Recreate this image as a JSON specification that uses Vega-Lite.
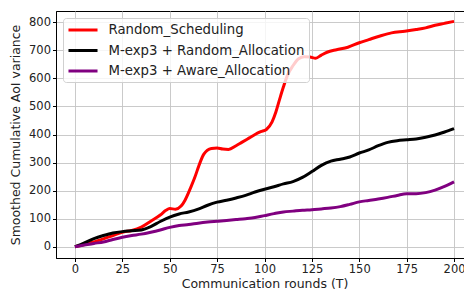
{
  "$schema": "https://vega.github.io/schema/vega-lite/v6.json",
  "autosize": "none",
  "width": 417,
  "height": 247,
  "padding": {"left": 56, "top": 11, "right": 0, "bottom": 32},
  "background": "white",
  "config": {
    "font": "DejaVu Sans",
    "view": {"stroke": "black", "strokeWidth": 1},
    "axis": {
      "domainColor": "black", "tickColor": "black", "tickSize": 3.5, "labelFontSize": 11.5,
      "labelColor": "#222", "titleFontSize": 12.5, "titleFontWeight": "normal", "titleColor": "#222",
      "gridColor": "#c4c4c4", "gridWidth": 0.9, "labelFont": "DejaVu Sans", "titleFont": "DejaVu Sans"
    }
  },
  "data": {"values": [
    {"t":0,"v":0,"s":"Random_Scheduling"},{"t":5,"v":8,"s":"Random_Scheduling"},{"t":10,"v":17,"s":"Random_Scheduling"},{"t":15,"v":28,"s":"Random_Scheduling"},{"t":20,"v":40,"s":"Random_Scheduling"},{"t":25,"v":52,"s":"Random_Scheduling"},{"t":30,"v":58,"s":"Random_Scheduling"},{"t":35,"v":70,"s":"Random_Scheduling"},{"t":40,"v":91,"s":"Random_Scheduling"},{"t":45,"v":113,"s":"Random_Scheduling"},{"t":48,"v":130,"s":"Random_Scheduling"},{"t":50,"v":136,"s":"Random_Scheduling"},{"t":53,"v":134,"s":"Random_Scheduling"},{"t":56,"v":145,"s":"Random_Scheduling"},{"t":58,"v":165,"s":"Random_Scheduling"},{"t":61,"v":210,"s":"Random_Scheduling"},{"t":63,"v":243,"s":"Random_Scheduling"},{"t":66,"v":300,"s":"Random_Scheduling"},{"t":68,"v":330,"s":"Random_Scheduling"},{"t":72,"v":350,"s":"Random_Scheduling"},{"t":75,"v":352,"s":"Random_Scheduling"},{"t":78,"v":348,"s":"Random_Scheduling"},{"t":81,"v":347,"s":"Random_Scheduling"},{"t":85,"v":360,"s":"Random_Scheduling"},{"t":88,"v":372,"s":"Random_Scheduling"},{"t":92,"v":388,"s":"Random_Scheduling"},{"t":95,"v":400,"s":"Random_Scheduling"},{"t":98,"v":410,"s":"Random_Scheduling"},{"t":101,"v":418,"s":"Random_Scheduling"},{"t":104,"v":445,"s":"Random_Scheduling"},{"t":106,"v":480,"s":"Random_Scheduling"},{"t":108,"v":526,"s":"Random_Scheduling"},{"t":110,"v":570,"s":"Random_Scheduling"},{"t":112,"v":609,"s":"Random_Scheduling"},{"t":115,"v":645,"s":"Random_Scheduling"},{"t":118,"v":670,"s":"Random_Scheduling"},{"t":121,"v":677,"s":"Random_Scheduling"},{"t":124,"v":676,"s":"Random_Scheduling"},{"t":127,"v":672,"s":"Random_Scheduling"},{"t":130,"v":683,"s":"Random_Scheduling"},{"t":133,"v":693,"s":"Random_Scheduling"},{"t":138,"v":702,"s":"Random_Scheduling"},{"t":144,"v":711,"s":"Random_Scheduling"},{"t":150,"v":727,"s":"Random_Scheduling"},{"t":155,"v":738,"s":"Random_Scheduling"},{"t":161,"v":751,"s":"Random_Scheduling"},{"t":167,"v":762,"s":"Random_Scheduling"},{"t":174,"v":768,"s":"Random_Scheduling"},{"t":180,"v":774,"s":"Random_Scheduling"},{"t":185,"v":780,"s":"Random_Scheduling"},{"t":190,"v":789,"s":"Random_Scheduling"},{"t":195,"v":796,"s":"Random_Scheduling"},{"t":200,"v":803,"s":"Random_Scheduling"},
    {"t":0,"v":0,"s":"M-exp3 + Random_Allocation"},{"t":5,"v":14,"s":"M-exp3 + Random_Allocation"},{"t":10,"v":29,"s":"M-exp3 + Random_Allocation"},{"t":15,"v":40,"s":"M-exp3 + Random_Allocation"},{"t":20,"v":49,"s":"M-exp3 + Random_Allocation"},{"t":25,"v":54,"s":"M-exp3 + Random_Allocation"},{"t":30,"v":57,"s":"M-exp3 + Random_Allocation"},{"t":35,"v":60,"s":"M-exp3 + Random_Allocation"},{"t":40,"v":72,"s":"M-exp3 + Random_Allocation"},{"t":45,"v":90,"s":"M-exp3 + Random_Allocation"},{"t":50,"v":106,"s":"M-exp3 + Random_Allocation"},{"t":55,"v":117,"s":"M-exp3 + Random_Allocation"},{"t":60,"v":124,"s":"M-exp3 + Random_Allocation"},{"t":65,"v":134,"s":"M-exp3 + Random_Allocation"},{"t":70,"v":148,"s":"M-exp3 + Random_Allocation"},{"t":75,"v":159,"s":"M-exp3 + Random_Allocation"},{"t":80,"v":166,"s":"M-exp3 + Random_Allocation"},{"t":85,"v":174,"s":"M-exp3 + Random_Allocation"},{"t":90,"v":183,"s":"M-exp3 + Random_Allocation"},{"t":95,"v":195,"s":"M-exp3 + Random_Allocation"},{"t":100,"v":205,"s":"M-exp3 + Random_Allocation"},{"t":105,"v":214,"s":"M-exp3 + Random_Allocation"},{"t":110,"v":224,"s":"M-exp3 + Random_Allocation"},{"t":115,"v":232,"s":"M-exp3 + Random_Allocation"},{"t":120,"v":247,"s":"M-exp3 + Random_Allocation"},{"t":125,"v":268,"s":"M-exp3 + Random_Allocation"},{"t":130,"v":290,"s":"M-exp3 + Random_Allocation"},{"t":135,"v":305,"s":"M-exp3 + Random_Allocation"},{"t":140,"v":312,"s":"M-exp3 + Random_Allocation"},{"t":145,"v":320,"s":"M-exp3 + Random_Allocation"},{"t":150,"v":334,"s":"M-exp3 + Random_Allocation"},{"t":155,"v":345,"s":"M-exp3 + Random_Allocation"},{"t":160,"v":360,"s":"M-exp3 + Random_Allocation"},{"t":165,"v":372,"s":"M-exp3 + Random_Allocation"},{"t":170,"v":378,"s":"M-exp3 + Random_Allocation"},{"t":175,"v":381,"s":"M-exp3 + Random_Allocation"},{"t":180,"v":384,"s":"M-exp3 + Random_Allocation"},{"t":185,"v":390,"s":"M-exp3 + Random_Allocation"},{"t":190,"v":398,"s":"M-exp3 + Random_Allocation"},{"t":195,"v":409,"s":"M-exp3 + Random_Allocation"},{"t":200,"v":421,"s":"M-exp3 + Random_Allocation"},
    {"t":0,"v":0,"s":"M-exp3 + Aware_Allocation"},{"t":5,"v":6,"s":"M-exp3 + Aware_Allocation"},{"t":10,"v":12,"s":"M-exp3 + Aware_Allocation"},{"t":15,"v":17,"s":"M-exp3 + Aware_Allocation"},{"t":20,"v":26,"s":"M-exp3 + Aware_Allocation"},{"t":25,"v":34,"s":"M-exp3 + Aware_Allocation"},{"t":30,"v":40,"s":"M-exp3 + Aware_Allocation"},{"t":35,"v":45,"s":"M-exp3 + Aware_Allocation"},{"t":40,"v":52,"s":"M-exp3 + Aware_Allocation"},{"t":45,"v":60,"s":"M-exp3 + Aware_Allocation"},{"t":50,"v":69,"s":"M-exp3 + Aware_Allocation"},{"t":55,"v":76,"s":"M-exp3 + Aware_Allocation"},{"t":60,"v":79,"s":"M-exp3 + Aware_Allocation"},{"t":65,"v":84,"s":"M-exp3 + Aware_Allocation"},{"t":70,"v":88,"s":"M-exp3 + Aware_Allocation"},{"t":75,"v":91,"s":"M-exp3 + Aware_Allocation"},{"t":80,"v":94,"s":"M-exp3 + Aware_Allocation"},{"t":85,"v":97,"s":"M-exp3 + Aware_Allocation"},{"t":90,"v":100,"s":"M-exp3 + Aware_Allocation"},{"t":95,"v":104,"s":"M-exp3 + Aware_Allocation"},{"t":100,"v":111,"s":"M-exp3 + Aware_Allocation"},{"t":105,"v":118,"s":"M-exp3 + Aware_Allocation"},{"t":110,"v":124,"s":"M-exp3 + Aware_Allocation"},{"t":115,"v":127,"s":"M-exp3 + Aware_Allocation"},{"t":120,"v":130,"s":"M-exp3 + Aware_Allocation"},{"t":125,"v":132,"s":"M-exp3 + Aware_Allocation"},{"t":130,"v":135,"s":"M-exp3 + Aware_Allocation"},{"t":135,"v":138,"s":"M-exp3 + Aware_Allocation"},{"t":140,"v":143,"s":"M-exp3 + Aware_Allocation"},{"t":145,"v":151,"s":"M-exp3 + Aware_Allocation"},{"t":150,"v":160,"s":"M-exp3 + Aware_Allocation"},{"t":155,"v":165,"s":"M-exp3 + Aware_Allocation"},{"t":160,"v":170,"s":"M-exp3 + Aware_Allocation"},{"t":165,"v":176,"s":"M-exp3 + Aware_Allocation"},{"t":170,"v":183,"s":"M-exp3 + Aware_Allocation"},{"t":175,"v":189,"s":"M-exp3 + Aware_Allocation"},{"t":180,"v":189,"s":"M-exp3 + Aware_Allocation"},{"t":185,"v":193,"s":"M-exp3 + Aware_Allocation"},{"t":190,"v":202,"s":"M-exp3 + Aware_Allocation"},{"t":195,"v":215,"s":"M-exp3 + Aware_Allocation"},{"t":200,"v":231,"s":"M-exp3 + Aware_Allocation"}
  ]},
  "mark": {"type": "line", "strokeWidth": 3, "interpolate": "monotone", "clip": true},
  "encoding": {
    "x": {"field": "t", "type": "quantitative", "title": "Communication rounds (T)",
      "scale": {"domain": [-10, 210], "nice": false, "zero": false},
      "axis": {"values": [0, 25, 50, 75, 100, 125, 150, 175, 200], "titlePadding": 2}},
    "y": {"field": "v", "type": "quantitative", "title": "Smoothed Cumulative AoI variance",
      "scale": {"domain": [-40, 840], "nice": false, "zero": false},
      "axis": {"values": [0, 100, 200, 300, 400, 500, 600, 700, 800], "titlePadding": 6}},
    "color": {"field": "s", "type": "nominal",
      "scale": {"domain": ["Random_Scheduling", "M-exp3 + Random_Allocation", "M-exp3 + Aware_Allocation"], "range": ["#ff0000", "#000000", "#800080"]},
      "legend": {"title": null, "orient": "none", "legendX": 7, "legendY": 7, "symbolType": "M-2.42,0H2.42", "symbolSize": 144, "symbolStrokeWidth": 3,
        "labelFontSize": 13.3, "labelColor": "#222", "labelFont": "DejaVu Sans", "symbolOffset": 8, "labelOffset": 18, "rowPadding": 6.5, "padding": 4.5,
        "fillColor": "rgba(255,255,255,0.8)", "strokeColor": "#d0d0d0", "cornerRadius": 3, "labelLimit": 300}}
  }
}
